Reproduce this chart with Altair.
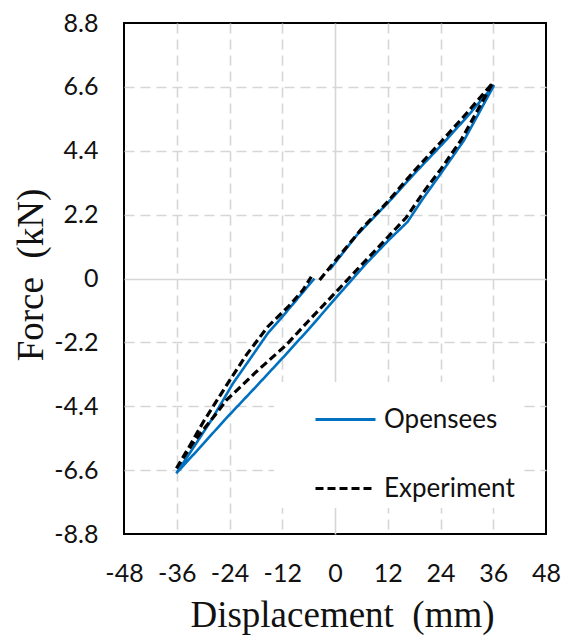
import altair as alt
import pandas as pd

# Opensees (simulation) path, in drawing order
ops_disp = [-1.2, 5, 12, 18, 25.3, 30.5, 36.2,
            29.4, 24.1, 20, 16.5, 12.4, 7, 0.3, -6, -12, -18, -25.1, -30, -36.1,
            -32.1, -28.1, -23.2, -19, -15.3, -12.6, -8, -4.7]
ops_force = [0.3, 1.5, 2.6, 3.6, 4.77, 5.65, 6.66,
             4.77, 3.62, 2.75, 1.95, 1.35, 0.5, -0.65, -1.75, -2.75, -3.73, -4.87, -5.7, -6.71,
             -5.8, -4.87, -3.61, -2.7, -1.89, -1.43, -0.6, 0.0]

# Experiment path, in drawing order
exp_disp = [-3.5, 0, 6, 12, 18, 24.5, 30, 35.9,
            28.7, 24, 20.5, 16.2, 10, 5.6, 0, -6.2, -11.1, -17.9, -24.7, -27, -32, -36.3,
            -33, -30, -24.4, -20.2, -15.3, -10.5, -7.3, -5.4]
exp_force = [-0.05, 0.6, 1.7, 2.65, 3.7, 4.77, 5.7, 6.74,
             4.77, 3.75, 3.05, 2.1, 1.1, 0.4, -0.5, -1.49, -2.29, -3.21, -4.19, -4.65, -5.6, -6.6,
             -5.75, -4.95, -3.61, -2.64, -1.66, -0.95, -0.4, 0.06]

series_names = ["Opensees", "Experiment"]
series_colors = ["#0070C0", "#000000"]
x_ticks = [-48, -36, -24, -12, 0, 12, 24, 36, 48]
y_ticks = [-8.8, -6.6, -4.4, -2.2, 0, 2.2, 4.4, 6.6, 8.8]

df = pd.concat([
    pd.DataFrame({"disp": ops_disp, "force": ops_force, "series": "Opensees",
                  "idx": range(len(ops_disp))}),
    pd.DataFrame({"disp": exp_disp, "force": exp_force, "series": "Experiment",
                  "idx": range(len(exp_disp))}),
])

W, H = 422, 511
grid_dash = {"condition": {"test": "datum.value === 0", "value": [1, 0]}, "value": [10, 6]}

x_enc = alt.X("disp:Q",
              scale=alt.Scale(domain=[-48, 48], nice=False, zero=False),
              axis=alt.Axis(values=x_ticks, title="Displacement\u00a0 (mm)",
                            labelExpr="(datum.value < 0 ? '-' : '') + format(abs(datum.value), 'd')",
                            labelOverlap=False, labelBound=False, labelFlush=False,
                            grid=True, gridColor="#d6d6d6", gridWidth=1.6, gridDash=grid_dash,
                            gridOpacity={"condition": {"test": "abs(datum.value) > 47", "value": 0},
                                         "value": 1},
                            domain=False, ticks=False, labelPadding=27,
                            labelFont="Lato", labelFontSize=25, labelColor="#111",
                            titleFont="Liberation Serif", titleFontSize=37, titleFontWeight="normal",
                            titleColor="#111", titleY=81, titleX=218, titleBaseline="middle"))
y_enc = alt.Y("force:Q",
              scale=alt.Scale(domain=[-8.8, 8.8], nice=False, zero=False),
              axis=alt.Axis(values=y_ticks, title="Force\u00a0 (kN)",
                            labelExpr="datum.value == 0 ? '0' : (datum.value < 0 ? '-' : '') + format(abs(datum.value), '.1f')",
                            labelOverlap=False, labelBound=False, labelFlush=False,
                            grid=True, gridColor="#d6d6d6", gridWidth=1.6, gridDash=grid_dash,
                            gridOpacity={"condition": {"test": "abs(datum.value) > 8.7", "value": 0},
                                         "value": 1},
                            domain=False, ticks=False, labelPadding=26,
                            labelFont="Lato", labelFontSize=25, labelColor="#111",
                            titleFont="Liberation Serif", titleFontSize=37, titleFontWeight="normal",
                            titleColor="#111", titleX=-93, titleY=H / 2 - 4, titleAngle=-90,
                            titleAlign="center", titleBaseline="middle"))

legend_opts = dict(title=None, orient="none", legendX=150, legendY=359,
                   fillColor="white", padding=6, symbolOffset=34,
                   symbolType="stroke", symbolSize=3600,
                   symbolStrokeWidth=3, rowPadding=24,
                   labelFont="Lato", labelFontSize=26, labelColor="#111",
                   labelOffset=7)

color_enc = alt.Color("series:N",
                      scale=alt.Scale(domain=series_names, range=series_colors),
                      legend=alt.Legend(**legend_opts))
dash_enc = alt.StrokeDash("series:N",
                          scale=alt.Scale(domain=series_names, range=[[1, 0], [8, 4]]),
                          legend=alt.Legend(**legend_opts))

base = alt.Chart(df).encode(x=x_enc, y=y_enc, color=color_enc, strokeDash=dash_enc,
                            order=alt.Order("idx:Q"))

blue = base.transform_filter(alt.datum.series == "Opensees").mark_line(strokeWidth=2.6)
black = base.transform_filter(alt.datum.series == "Experiment").mark_line(strokeWidth=3.2)

chart = alt.layer(blue, black).properties(
    width=W, height=H,
    autosize=alt.AutoSizeParams(type="none"),
    padding={"left": 124, "top": 23, "right": 15, "bottom": 103},
    background="white",
).configure_view(stroke="black", strokeWidth=2)

chart.save("out.html", embed_options={"renderer": "svg", "actions": False})
